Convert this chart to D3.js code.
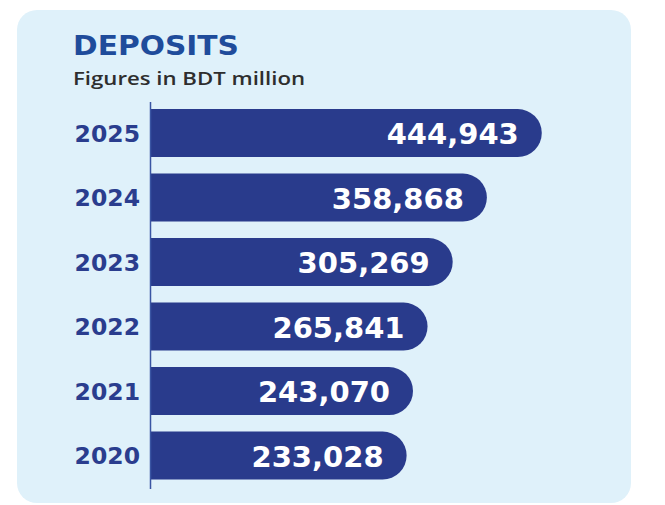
<!DOCTYPE html>
<html lang="en">
<head>
    <meta charset="UTF-8">
    <script src="https://cdn.jsdelivr.net/npm/d3@7"></script>
    <title>Deposits</title>
    <style type="text/css">
        body { margin: 0; background: #ffffff; }
        svg { display: block; }
        .year { font: bold 23.5px "DejaVu Sans", sans-serif; fill: #2a3d8e; }
        .value { font: bold 29px "DejaVu Sans", sans-serif; fill: #ffffff; }
    </style>
</head>
<body>
<div id="chart"></div>

<script>
    // data
    var years = ["2025", "2024", "2023", "2022", "2021", "2020"];
    var deposits = [444943, 358868, 305269, 265841, 243070, 233028];
    var labels = ["444,943", "358,868", "305,269", "265,841", "243,070", "233,028"];

    var width = 665, height = 505;
    var axisX = 151;

    var svg = d3.select("#chart").append("svg")
            .attr("width", width)
            .attr("height", height);

    // light blue panel
    svg.append("rect")
            .attr("x", 17).attr("y", 10)
            .attr("width", 614).attr("height", 493)
            .attr("rx", 20)
            .attr("fill", "#dff1fa");

    // title + subtitle
    svg.append("text")
            .attr("x", 73).attr("y", 55)
            .attr("textLength", 166)
            .attr("lengthAdjust", "spacingAndGlyphs")
            .style("font", "bold 27px 'DejaVu Sans', sans-serif")
            .style("fill", "#1f4c9b")
            .text("DEPOSITS");
    svg.append("text")
            .attr("x", 73).attr("y", 85)
            .attr("textLength", 232)
            .attr("lengthAdjust", "spacingAndGlyphs")
            .style("font", "600 18px 'Open Sans', sans-serif")
            .style("fill", "#2e2e2e")
            .text("Figures in BDT million");

    // scales (bars in the original are not drawn from zero, so the scale is offset)
    var x = d3.scaleLinear()
            .domain([0, 450000])
            .range([258, 545]);
    var y = d3.scaleBand()
            .domain(years)
            .range([100.8, 487.8])
            .paddingInner(0.256)
            .paddingOuter(0.128);

    var rows = years.map(function(d, i) {
        return { year: d, value: deposits[i], label: labels[i] };
    });

    // bar: square on the left, round on the right
    function barPath(d) {
        var x0 = axisX, x1 = x(d.value);
        var y0 = y(d.year), h = y.bandwidth(), r = h / 2;
        return "M" + x0 + "," + y0 +
                "H" + (x1 - r) +
                "A" + r + "," + r + " 0 0 1 " + (x1 - r) + "," + (y0 + h) +
                "H" + x0 + "Z";
    }

    svg.append("g").selectAll("path")
            .data(rows)
            .enter()
            .append("path")
            .attr("d", barPath)
            .attr("fill", "#293b8c");

    // axis line
    svg.append("line")
            .attr("x1", axisX - 0.5).attr("x2", axisX - 0.5)
            .attr("y1", 102).attr("y2", 489)
            .attr("stroke", "#3a55a3")
            .attr("stroke-width", 1.5);

    // year labels
    svg.append("g").selectAll("text")
            .data(rows)
            .enter()
            .append("text")
            .attr("class", "year")
            .attr("text-anchor", "end")
            .attr("x", 140)
            .attr("y", function(d) { return y(d.year) + y.bandwidth() / 2 + 8.5; })
            .text(function(d) { return d.year; });

    // value labels inside bars
    svg.append("g").selectAll("text")
            .data(rows)
            .enter()
            .append("text")
            .attr("class", "value")
            .attr("text-anchor", "end")
            .attr("x", function(d) { return x(d.value) - 23; })
            .attr("y", function(d) { return y(d.year) + y.bandwidth() / 2 + 11; })
            .text(function(d) { return d.label; });
</script>
</body>
</html>
